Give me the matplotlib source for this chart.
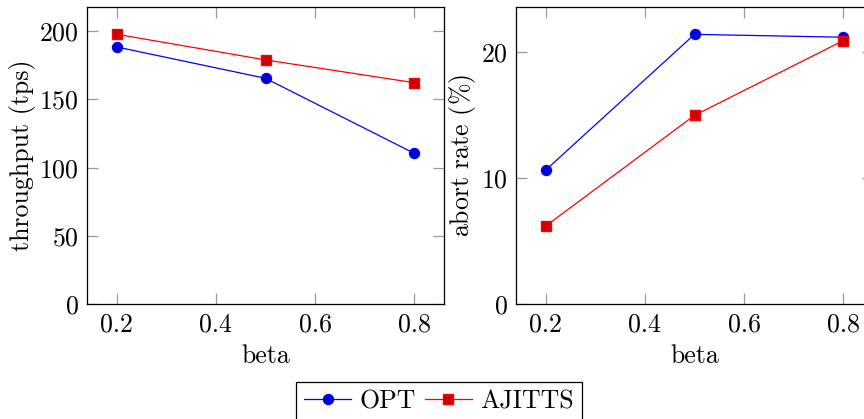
import matplotlib
matplotlib.use("Agg")
import matplotlib.pyplot as plt

# data
beta = [0.2, 0.5, 0.8]
opt_tps = [188.5, 165.5, 110.5]
ajitts_tps = [197.8, 179.0, 162.3]
opt_abort = [10.63, 21.4, 21.17]
ajitts_abort = [6.19, 14.97, 20.9]

FS = 18.6
plt.rcParams['font.family'] = ['cmr10', 'DejaVu Serif']
plt.rcParams['mathtext.fontset'] = 'cm'
plt.rcParams['axes.formatter.use_mathtext'] = True
plt.rcParams['font.size'] = FS

W, H = 864, 419
fig = plt.figure(figsize=(W / 100, H / 100), dpi=100)

# axes boxes in pixels (left, bottom from top, width, height)
ax1 = fig.add_axes([87 / W, (H - 304) / H, 357 / W, 297 / H])
ax2 = fig.add_axes([516 / W, (H - 304) / H, 357 / W, 297 / H])

blue = (0, 0, 1)
blue_fill = (0, 0, 0.8)
red = (1, 0, 0)
red_fill = (0.8, 0, 0)


def style(ax):
    ax.set_xlim(0.14, 0.86)
    ax.set_xticks([0.2, 0.4, 0.6, 0.8])
    ax.set_xticklabels(["0.2", "0.4", "0.6", "0.8"])
    ax.tick_params(direction='in', length=8, width=0.9, color='0.6',
                   top=True, right=True, pad=6, labelsize=FS)
    for s in ax.spines.values():
        s.set_linewidth(0.9)
    ax.set_xlabel("beta", labelpad=6)


l1, = ax1.plot(beta, opt_tps, color=blue, lw=0.9, marker='o', ms=7.2,
               mfc=blue_fill, mec=blue, label="OPT")
l2, = ax1.plot(beta, ajitts_tps, color=red, lw=0.9, marker='s', ms=6.8,
               mfc=red_fill, mec=red, label="AJITTS")
style(ax1)
ax1.set_ylim(0, 217.8)
ax1.set_yticks([0, 50, 100, 150, 200])
ax1.set_ylabel("throughput (tps)", labelpad=2)

ax2.plot(beta, opt_abort, color=blue, lw=0.9, marker='o', ms=7.2,
         mfc=blue_fill, mec=blue)
ax2.plot(beta, ajitts_abort, color=red, lw=0.9, marker='s', ms=6.8,
         mfc=red_fill, mec=red)
style(ax2)
ax2.set_ylim(0, 23.57)
ax2.set_yticks([0, 10, 20])
ax2.set_ylabel(r"abort rate ($\%$)", labelpad=2)

leg = fig.legend(handles=[l1, l2], loc='upper center',
                 bbox_to_anchor=(438.7 / W, 1 - 381.7 / H), ncol=2,
                 fancybox=False, edgecolor='black', framealpha=1,
                 handlelength=1.85, handletextpad=0.3, columnspacing=0.35,
                 borderpad=0.3, borderaxespad=0, fontsize=FS)
leg.get_frame().set_linewidth(0.9)

fig.savefig("out.png", dpi=100)
